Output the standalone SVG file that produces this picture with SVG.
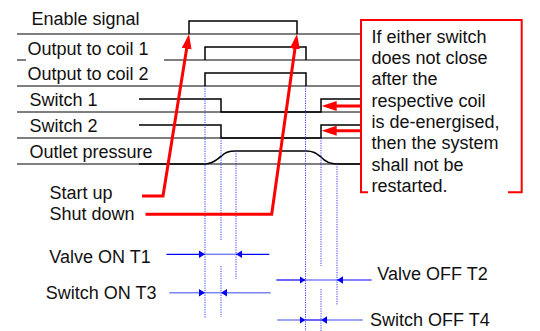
<svg xmlns="http://www.w3.org/2000/svg" width="540" height="331" viewBox="0 0 540 331">
<style>
text{font-family:"Liberation Sans",Arial,sans-serif;font-size:18px;fill:#111}
.row{stroke:#000;stroke-width:1;fill:none}
.sig{stroke:#000;stroke-width:1.5;fill:none}
.dot{stroke:#3a3aff;stroke-width:1;stroke-dasharray:1.2,1.2;fill:none}
.red{stroke:#f00;stroke-width:3;fill:none}
.blu{stroke:#0000ff;stroke-width:1.2;fill:none}
.lblu{stroke:#7a84f4;stroke-width:1.5;fill:none}
</style>
<defs>
<marker id="ar" markerUnits="userSpaceOnUse" markerWidth="16" markerHeight="10" refX="9" refY="5" orient="auto"><path d="M0,0 L15,5 L0,10 z" fill="#f00"/></marker>
<marker id="ab" markerUnits="userSpaceOnUse" markerWidth="7" markerHeight="8" refX="6" refY="4" orient="auto"><path d="M0,0.3 L6,4 L0,7.7 z" fill="#00f"/></marker>
</defs>
<rect width="540" height="331" fill="#fff"/>

<g id="rows">
<path class="row" d="M17,34H360 M17,60H26 M164,60H360 M17,86H360 M17,112H360 M17,138H360 M17,164H360"/>
</g>

<g id="enable-signal">
<text x="31.5" y="25">Enable signal</text>
<path class="sig" stroke-width="1.2" d="M189,34V21H297V34"/>
</g>
<g id="coil1">
<text x="27.5" y="54.5">Output to coil 1</text>
<path class="sig" d="M205,60V47H306V60"/>
</g>
<g id="coil2">
<text x="27.5" y="80">Output to coil 2</text>
<path class="sig" d="M205,86V73H306V86"/>
</g>
<g id="switch1">
<text x="29.5" y="106">Switch 1</text>
<path class="sig" d="M139,99H221V112H321V99H360"/>
</g>
<g id="switch2">
<text x="29.5" y="131.5">Switch 2</text>
<path class="sig" d="M139,125H221V138H321V125H360"/>
</g>
<g id="outlet-pressure">
<text x="29.5" y="157.5">Outlet pressure</text>
<path class="sig" d="M139,164H205 C214,163.5 217,159 221,156.5 C225,152.5 228,151 236,151 H306 C314,151 317,154 321,157 C325,161.5 330,164 337,164 H360"/>
</g>

<g id="guides">
<path class="dot" d="M205,86V318 M221,138V240 M221,266V317 M236,151V279 M305.5,86V331 M321,138V266 M321,289V331 M337,164V305"/>
</g>

<g id="note">
<path stroke="#f00" stroke-width="2" fill="none" d="M368,192.3H361V20H521.7V192.3H508"/>
<text x="371.5" y="42.5">If either switch</text>
<text x="371.5" y="64">does not close</text>
<text x="371.5" y="85.3">after the</text>
<text x="371.5" y="106.6">respective coil</text>
<text x="371.5" y="127.9">is de-energised,</text>
<text x="371.5" y="149.2">then the system</text>
<text x="371.5" y="170.5">shall not be</text>
<text x="371.5" y="191.8">restarted.</text>
</g>

<g id="start-up">
<text x="49.5" y="198.5">Start up</text>
</g>
<g id="shut-down">
<text x="49.5" y="220">Shut down</text>
</g>

<g id="connectors">
<path class="red" marker-end="url(#ar)" d="M142,196H163L188.05,39.9"/>
<path class="red" marker-end="url(#ar)" d="M145.5,214.3H271.7L296.17,39.94"/>
<path class="red" marker-end="url(#ar)" d="M361,106H327.7"/>
<path class="red" marker-end="url(#ar)" d="M361,130.7H327.7"/>
</g>

<g id="valve-on-t1">
<text x="49.3" y="262.5">Valve ON T1</text>
<path class="blu" marker-end="url(#ab)" d="M166.5,254.3H205"/>
<path class="lblu" d="M205,254.3H236"/>
<path class="blu" marker-end="url(#ab)" d="M269.3,254.3H236"/>
</g>
<g id="switch-on-t3">
<text x="45.7" y="299">Switch ON T3</text>
<path class="lblu" marker-end="url(#ab)" d="M169.3,292.7H205"/>
<path class="lblu" d="M205,292.7H221"/>
<path class="lblu" marker-end="url(#ab)" d="M270.7,292.7H221"/>
</g>
<g id="valve-off-t2">
<text x="377.3" y="280">Valve OFF T2</text>
<path class="blu" marker-end="url(#ab)" d="M276.3,280H305.5"/>
<path class="lblu" d="M305.5,280H337"/>
<path class="blu" marker-end="url(#ab)" d="M371.7,280H337"/>
</g>
<g id="switch-off-t4">
<text x="370" y="326">Switch OFF T4</text>
<path class="lblu" marker-end="url(#ab)" d="M277.3,320H305.5"/>
<path class="blu" d="M305.5,320H321"/>
<path class="lblu" marker-end="url(#ab)" d="M362.7,320H321"/>
</g>
</svg>
